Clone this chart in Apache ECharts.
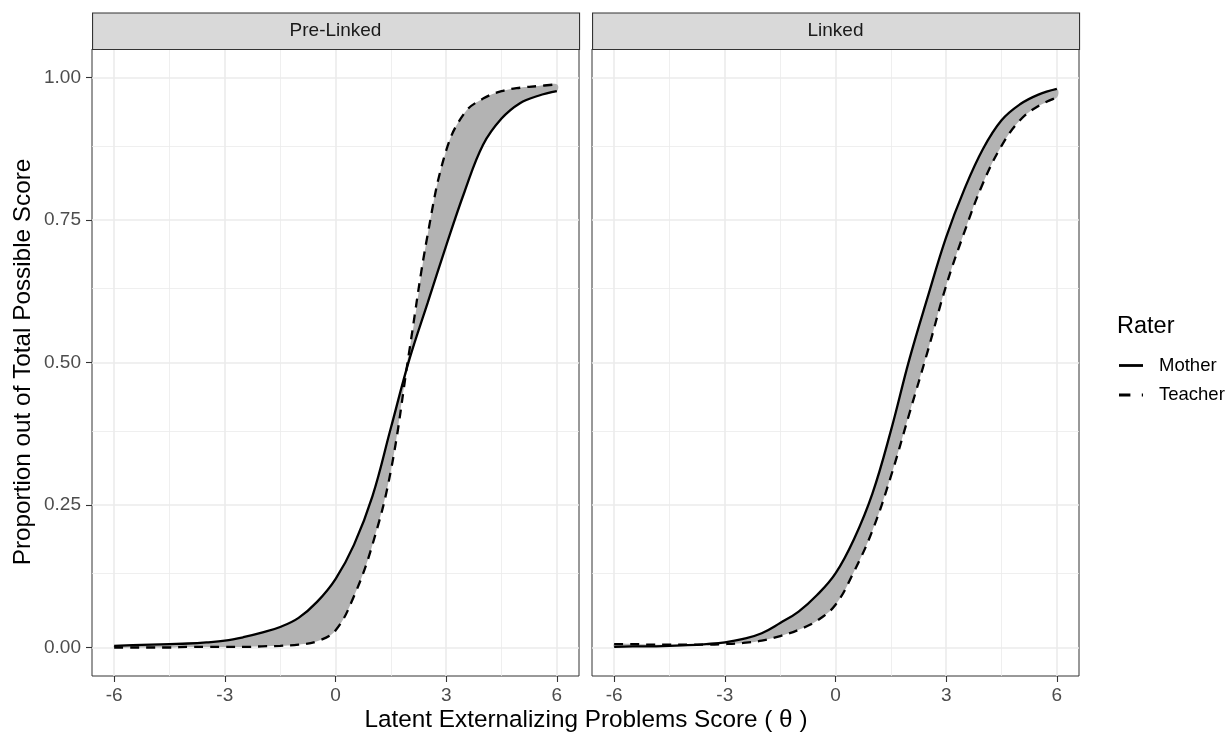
<!DOCTYPE html>
<html lang="en">
<head>
<meta charset="UTF-8">
<title>Rater curves</title>
<script src="https://cdn.jsdelivr.net/npm/echarts@6/dist/echarts.min.js"></script>
<style>
  html, body { margin: 0; padding: 0; background: #fff; }
  #main { width: 1231px; height: 736px; }
</style>
</head>
<body>
<div id="main"></div>
<script type="text/javascript">
// latent score grid (theta) and the proportions
var theta = [-6, -5.5, -5, -4.5, -4, -3.5, -3, -2.5, -2, -1.5, -1, -0.5, 0,
             0.5, 1, 1.5, 2, 2.5, 3, 3.5, 4, 4.5, 5, 5.5, 6];
var preMother   = [0.003, 0.004, 0.005, 0.006, 0.007, 0.009, 0.012, 0.018, 0.026, 0.036, 0.052, 0.08, 0.12,
                   0.18, 0.265, 0.385, 0.505, 0.605, 0.705, 0.80, 0.882, 0.928, 0.955, 0.968, 0.976];
var preTeacher  = [0, 0, 0, 0, 0.001, 0.001, 0.001, 0.001, 0.002, 0.003, 0.005, 0.011, 0.03,
                   0.09, 0.18, 0.31, 0.52, 0.725, 0.872, 0.938, 0.963, 0.976, 0.982, 0.985, 0.988];
var linkMother  = [0.001, 0.002, 0.002, 0.003, 0.004, 0.006, 0.009, 0.015, 0.025, 0.043, 0.063, 0.092, 0.13,
                   0.19, 0.27, 0.38, 0.505, 0.615, 0.72, 0.805, 0.875, 0.925, 0.953, 0.97, 0.98];
var linkTeacher = [0.006, 0.006, 0.005, 0.005, 0.005, 0.005, 0.006, 0.008, 0.012, 0.02, 0.031, 0.047, 0.075,
                   0.133, 0.205, 0.30, 0.41, 0.52, 0.635, 0.73, 0.815, 0.88, 0.925, 0.95, 0.965];

var panels = ['Pre-Linked', 'Linked'];
var raters = ['Mother', 'Teacher'];
var xTicks = [-6, -3, 0, 3, 6];
var xMinor = [-4.5, -1.5, 1.5, 4.5];
var yTicks = [0, 0.25, 0.5, 0.75, 1];
var yMinor = [0.125, 0.375, 0.625, 0.875];

var curves = [[preMother, preTeacher], [linkMother, linkTeacher]];

var FONT = 'Liberation Sans, Arial, sans-serif';
var SMOOTH = 0.4;
var DASH = [9, 7];
var gridLeft = [92, 592];
var gridTop = 49, gridW = 487, gridH = 627;

function pairs(arr) {
    return theta.map(function (t, i) { return [t, arr[i]]; });
}

var myChart = echarts.init(document.getElementById('main'), null, { renderer: 'canvas' });

var grids = [], xAxes = [], yAxes = [], series = [], graphics = [];

panels.forEach(function (name, p) {
    grids.push({
        left: gridLeft[p], top: gridTop, width: gridW, height: gridH,
        show: true, borderColor: '#333333', borderWidth: 1, backgroundColor: '#fff'
    });
    xAxes.push({
        gridIndex: p, type: 'value', min: -6.6, max: 6.6, position: 'bottom',
        axisLine: { show: false, onZero: false },
        splitLine: { show: false },
        axisTick: { show: true, customValues: xTicks, length: 6, lineStyle: { color: '#333', width: 1.1 } },
        axisLabel: {
            customValues: xTicks, margin: 10, color: '#4D4D4D',
            fontFamily: FONT, fontSize: 19
        }
    });
    yAxes.push({
        gridIndex: p, type: 'value', min: -0.05, max: 1.05, position: 'left',
        axisLine: { show: false, onZero: false },
        splitLine: { show: false },
        axisTick: { show: p === 0, customValues: yTicks, length: 6, lineStyle: { color: '#333', width: 1.1 } },
        axisLabel: {
            show: p === 0, customValues: yTicks, margin: 11, color: '#4D4D4D',
            fontFamily: FONT, fontSize: 19,
            formatter: function (v) { return v.toFixed(2); }
        }
    });

    // background grid lines (ggplot grey92)
    var gl = [];
    xTicks.forEach(function (v) { gl.push({ xAxis: v, lineStyle: { width: 1.6 } }); });
    xMinor.forEach(function (v) { gl.push({ xAxis: v, lineStyle: { width: 0.8 } }); });
    yTicks.forEach(function (v) { gl.push({ yAxis: v, lineStyle: { width: 1.6 } }); });
    yMinor.forEach(function (v) { gl.push({ yAxis: v, lineStyle: { width: 0.8 } }); });

    var m = curves[p][0], t = curves[p][1];
    var lo = m.map(function (v, i) { return Math.min(v, t[i]); });
    var hi = m.map(function (v, i) { return Math.max(v, t[i]); });

    series.push({
        type: 'line', xAxisIndex: p, yAxisIndex: p, z: 0,
        data: pairs(m), showSymbol: false, silent: true,
        lineStyle: { width: 0, opacity: 0 },
        markLine: {
            silent: true, z: 0, symbol: ['none', 'none'], label: { show: false },
            lineStyle: { type: 'solid', color: '#EBEBEB' },
            data: gl
        }
    });
    // grey ribbon between the two raters
    series.push({
        type: 'custom', xAxisIndex: p, yAxisIndex: p, z: 2, silent: true,
        data: pairs(m), encode: { x: 0, y: 1 },
        renderItem: function (params, api) {
            if (params.dataIndex !== 0) return null;
            var pts = [], i;
            for (i = 0; i < theta.length; i++) pts.push(api.coord([theta[i], hi[i]]));
            for (i = theta.length - 1; i >= 0; i--) pts.push(api.coord([theta[i], lo[i]]));
            return {
                type: 'polygon',
                shape: { points: pts, smooth: SMOOTH },
                style: { fill: '#B3B3B3', stroke: null }
            };
        }
    });
    series.push({
        name: 'Mother', type: 'line', xAxisIndex: p, yAxisIndex: p, z: 3,
        data: pairs(m), showSymbol: false, symbol: 'none', smooth: SMOOTH,
        lineStyle: { color: '#000', width: 2.3, type: 'solid' }
    });
    series.push({
        name: 'Teacher', type: 'line', xAxisIndex: p, yAxisIndex: p, z: 3,
        data: pairs(t), showSymbol: false, symbol: 'none', smooth: SMOOTH,
        lineStyle: { color: '#000', width: 2.3, type: DASH }
    });

    // facet strip
    graphics.push({
        type: 'rect', left: gridLeft[p], top: 12.5, z: 10,
        shape: { width: gridW, height: gridTop - 12.5 },
        style: { fill: '#D9D9D9', stroke: '#333333', lineWidth: 1.1 }
    });
    graphics.push({
        type: 'text', z: 11,
        x: gridLeft[p] + gridW / 2, y: (12.5 + gridTop) / 2,
        style: {
            text: name, fill: '#1A1A1A', font: '19px ' + FONT,
            align: 'center', verticalAlign: 'middle'
        }
    });
});

// axis titles
graphics.push({
    type: 'text', x: 586, y: 720,
    style: {
        text: 'Latent Externalizing Problems Score ( \u03B8 )', fill: '#000',
        font: '24.3px ' + FONT, align: 'center', verticalAlign: 'middle'
    }
});
graphics.push({
    type: 'text', x: 23, y: 362, rotation: Math.PI / 2,
    style: {
        text: 'Proportion out of Total Possible Score', fill: '#000',
        font: '24.3px ' + FONT, align: 'center', verticalAlign: 'middle'
    }
});

// legend (ggplot style keys)
graphics.push({
    type: 'text', x: 1117, y: 327,
    style: { text: 'Rater', fill: '#000', font: '23.5px ' + FONT, align: 'left', verticalAlign: 'middle' }
});
var keyY = [365.5, 395];
raters.forEach(function (r, i) {
    graphics.push({
        type: 'line',
        shape: { x1: 1119, y1: keyY[i], x2: 1143, y2: keyY[i] },
        style: { stroke: '#000', lineWidth: 2.8, lineDash: i === 0 ? null : [11.4, 11.4] }
    });
    graphics.push({
        type: 'text', x: 1159, y: keyY[i],
        style: { text: r, fill: '#000', font: '18.5px ' + FONT, align: 'left', verticalAlign: 'middle' }
    });
});

var option = {
    animation: false,
    backgroundColor: '#fff',
    grid: grids,
    xAxis: xAxes,
    yAxis: yAxes,
    graphic: graphics,
    series: series
};
myChart.setOption(option);
</script>
</body>
</html>
